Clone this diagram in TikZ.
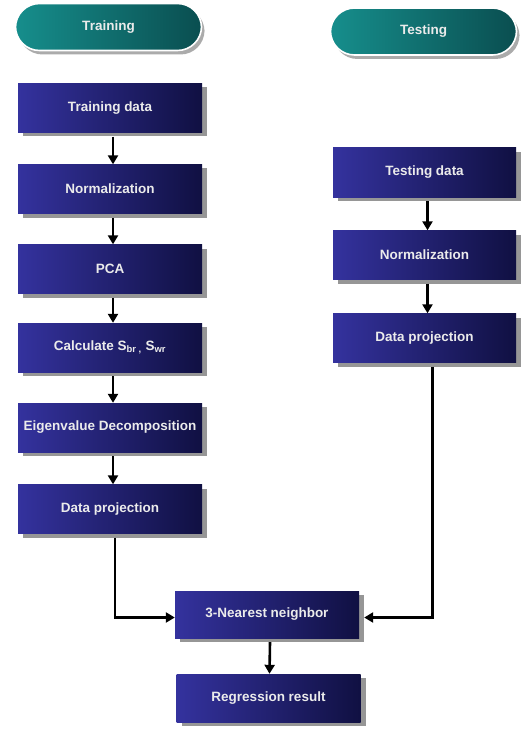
\documentclass[tikz,border=0pt]{standalone}
\usepackage{fontspec}
\setmainfont{Liberation Sans}
\usetikzlibrary{arrows.meta,shadows}
\definecolor{boxL}{RGB}{52,50,158}
\definecolor{boxR}{RGB}{16,16,66}
\definecolor{pillL}{RGB}{22,142,140}
\definecolor{pillR}{RGB}{10,78,80}
\definecolor{shade}{RGB}{150,150,150}
\tikzset{
  stepbox/.style={rectangle, minimum width=184pt, minimum height=49pt, inner sep=0pt,
    left color=boxL, right color=boxR, draw=none,
    text=white!92!black, font=\fontsize{13.5}{15}\selectfont\bfseries,
    drop shadow={shadow xshift=5pt, shadow yshift=-4pt, fill=shade, opacity=1}},
  pill/.style={rectangle, rounded corners=24pt, minimum width=186pt, minimum height=47pt, inner sep=0pt,
    left color=pillL, right color=pillR, draw=white, line width=1.6pt,
    text=white!92!black, font=\fontsize{13.5}{15}\selectfont\bfseries,
    drop shadow={shadow xshift=3pt, shadow yshift=-4pt, fill=shade, opacity=0.8}},
  flow/.style={line width=2.6pt, -{Triangle[length=9pt,width=10pt]}},
}
\begin{document}
\begin{tikzpicture}[x=1pt,y=-1pt]
\useasboundingbox[fill=white] (0,0) rectangle (521,730);
% pills
\node[pill] (ptrain) at (108.5,27) {Training};
\node[pill] (ptest) at (423.5,31.5) {Testing};
% training column
\node[stepbox] (trd) at (110,108) {Training data};
\node[stepbox] (trn) at (110,189) {Normalization};
\node[stepbox] (pca) at (110,269) {PCA};
\node[stepbox] (cal) at (110,347.5) {Calculate S\textsubscript{br ,} S\textsubscript{wr}};
\node[stepbox] (eig) at (110,427.5) {Eigenvalue Decomposition};
\node[stepbox] (trp) at (110,509) {Data projection};
% testing column
\node[stepbox, minimum width=183pt] (ted) at (424.5,172.5) {Testing data};
\node[stepbox, minimum width=183pt] (ten) at (424.5,255) {Normalization};
\node[stepbox, minimum width=183pt] (tep) at (424.5,338) {Data projection};
% bottom
\node[stepbox, minimum height=47pt] (knn) at (267,614.5) {3-Nearest neighbor};
\node[stepbox, minimum height=48pt] (reg) at (268.5,698) {Regression result};
% arrows
\foreach \a/\b in {trd/trn, trn/pca, pca/cal, cal/eig, eig/trp}
  \draw[flow] ([xshift=3pt,yshift=-4pt]\a.south) -- ([xshift=3pt]\b.north);
\foreach \a/\b in {ted/ten, ten/tep}
  \draw[flow] ([xshift=3pt,yshift=-4pt]\a.south) -- ([xshift=3pt]\b.north);
\draw[flow] ([xshift=5pt,yshift=-4pt]trp.south) |- ([yshift=-3pt]knn.west);
\draw[flow] ([xshift=8pt,yshift=-4pt]tep.south) |- ([xshift=5pt,yshift=-3pt]knn.east);
\draw[flow] ([xshift=3pt,yshift=-4pt]knn.south) -- ([xshift=1pt]reg.north);
\end{tikzpicture}
\end{document}
